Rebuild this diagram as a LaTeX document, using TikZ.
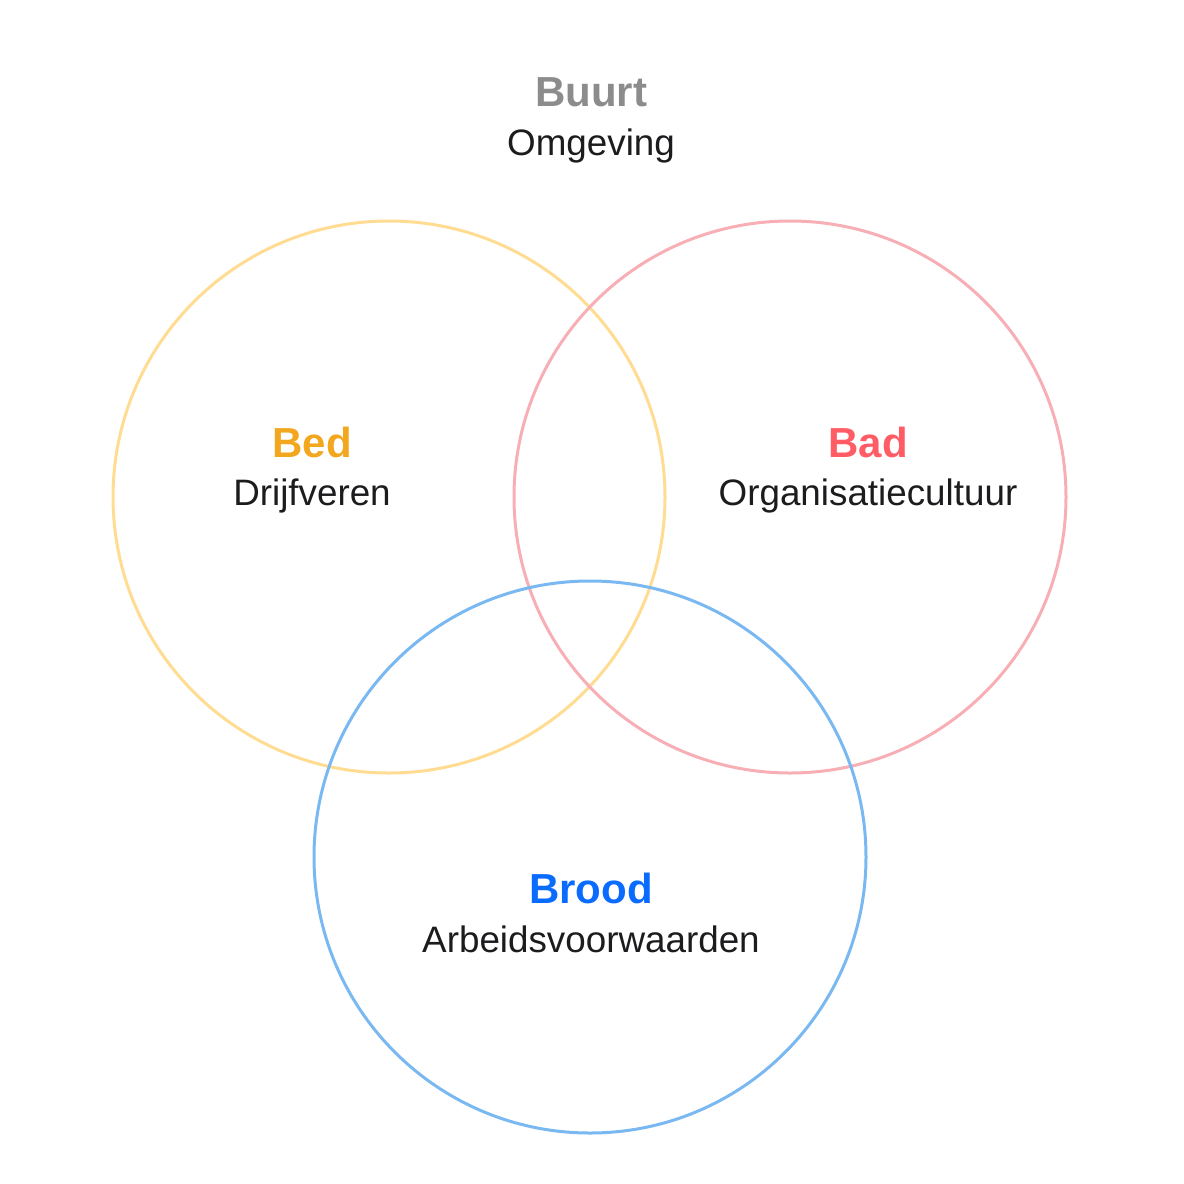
\documentclass[tikz,border=0pt]{standalone}
\usepackage{fontspec}
\setmainfont{Liberation Sans}
\definecolor{ycirc}{HTML}{FFDC92}
\definecolor{ytext}{HTML}{F2A71E}
\definecolor{rcirc}{HTML}{F7AFB5}
\definecolor{rtext}{HTML}{FF5C66}
\definecolor{bcirc}{HTML}{7AB8F2}
\definecolor{btext}{HTML}{0A6CFF}
\definecolor{gtext}{HTML}{8C8C8C}
\definecolor{dtext}{HTML}{1C1C1E}
\tikzset{
  ring/.style={line width=3pt},
  title/.style={anchor=base,font=\fontsize{42}{42}\selectfont\bfseries,inner sep=0pt},
  sub/.style={anchor=base,font=\fontsize{36.8}{37}\selectfont,text=dtext,inner sep=0pt}
}
\begin{document}
\begin{tikzpicture}[x=1pt,y=-1pt]
\useasboundingbox (0,0) rectangle (1184,1184);
\draw[ring,ycirc] (389,497) circle[radius=276];
\draw[ring,rcirc] (790,497) circle[radius=276];
\draw[ring,bcirc] (590,857) circle[radius=276];
\node[title,text=gtext] (buurt) at (591,106) {Buurt};
\node[sub] (omg) at (591,155) {Omgeving};
\node[title,text=ytext] (bed) at (312,457) {Bed};
\node[sub] (drijf) at (312,505) {Drijfveren};
\node[title,text=rtext] (bad) at (868,457) {Bad};
\node[sub] (org) at (868,505) {Organisatiecultuur};
\node[title,text=btext] (brood) at (591,903) {Brood};
\node[sub] (arb) at (591,952) {Arbeidsvoorwaarden};
\end{tikzpicture}
\end{document}
